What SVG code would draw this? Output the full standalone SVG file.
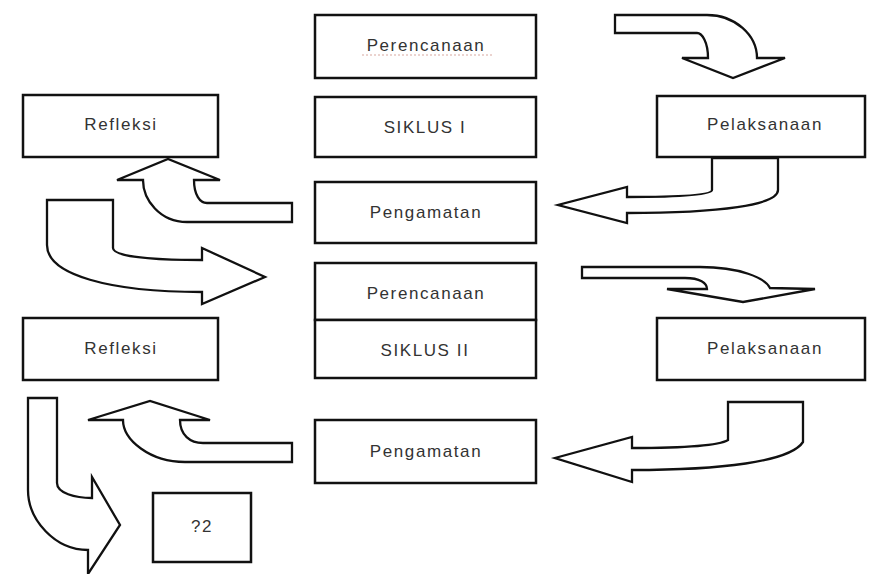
<svg xmlns="http://www.w3.org/2000/svg" width="870" height="574" viewBox="0 0 870 574">
<style>
.box{fill:#fff;stroke:#111;stroke-width:2.5}
.lbl{font-family:"Liberation Sans",Arial,sans-serif;font-size:17px;fill:#333;text-anchor:middle;letter-spacing:1.6px}
.arr{fill:#fff;stroke:#111;stroke-width:2.3;stroke-linejoin:miter}
</style>
<rect width="870" height="574" fill="#fff"/>
<g id="connectors">
<path class="arr" d="M615,15 L707,15 C735,15 757,35 757,58 L785,58 L733,78 L682,58 L708,58 C708,42 702,33 697,33 L615,33 Z"/>
<path class="arr" d="M712,158 L778,158 L778,190 C778,205 720,213 627,213 L627,223 L558,205 L627,187 L627,197 C680,197 712,195 712,190 Z"/>
<path class="arr" d="M292,203 L292,222 L187,222 C160,222 143,200 143,180 L117,180 L168,159 L220,180 L194,180 C194,195 200,203 207,203 Z"/>
<path class="arr" d="M47,200 L113,200 L113,248 C113,255 140,260 202,260 L202,248 L265,277 L202,304 L202,292 C110,292 47,275 47,245 Z"/>
<path class="arr" d="M582,267 L700,267 C740,267 765,278 770,288 L815,289 L743,302 L667,289 L707,289 C707,283 700,278 685,278 L582,278 Z"/>
<path class="arr" d="M728,402 L803,402 L803,442 C790,462 720,470 632,470 L632,482 L555,458 L632,437 L632,448 C690,448 720,445 728,440 Z"/>
<path class="arr" d="M292,443 L292,462 L185,462 C150,462 123,440 123,420 L88,420 L150,401 L210,420 L180,420 C180,435 190,443 203,443 Z"/>
<path class="arr" d="M28,398 L57,398 L57,483 C57,493 75,498 92,498 L92,477 L120,525 L88,574 L88,550 C55,550 28,520 28,490 Z"/>
</g>
<g id="perencanaan1">
<rect class="box" x="315" y="15" width="221" height="63"/>
<text class="lbl" x="426" y="51">Perencanaan</text>
<path d="M362,55 L492,55" stroke="#d8a8a0" stroke-width="1.2" stroke-dasharray="2,2" fill="none"/>
</g>
<g id="siklus1">
<rect class="box" x="315" y="97" width="221" height="60"/>
<text class="lbl" x="425" y="133">SIKLUS I</text>
</g>
<g id="pengamatan1">
<rect class="box" x="315" y="182" width="221" height="61"/>
<text class="lbl" x="426" y="218">Pengamatan</text>
</g>
<g id="perencanaan2">
<rect class="box" x="315" y="263" width="221" height="57"/>
<text class="lbl" x="426" y="299">Perencanaan</text>
</g>
<g id="siklus2">
<rect class="box" x="315" y="320" width="221" height="58"/>
<text class="lbl" x="425" y="356">SIKLUS II</text>
</g>
<g id="pengamatan2">
<rect class="box" x="315" y="420" width="221" height="63"/>
<text class="lbl" x="426" y="457">Pengamatan</text>
</g>
<g id="refleksi1">
<rect class="box" x="23" y="95" width="195" height="62"/>
<text class="lbl" x="121" y="130">Refleksi</text>
</g>
<g id="refleksi2">
<rect class="box" x="23" y="318" width="195" height="62"/>
<text class="lbl" x="121" y="354">Refleksi</text>
</g>
<g id="pelaksanaan1">
<rect class="box" x="657" y="96" width="208" height="61"/>
<text class="lbl" x="765" y="130">Pelaksanaan</text>
</g>
<g id="pelaksanaan2">
<rect class="box" x="657" y="318" width="208" height="62"/>
<text class="lbl" x="765" y="354">Pelaksanaan</text>
</g>
<g id="q">
<rect class="box" x="153" y="493" width="98" height="69"/>
<text class="lbl" x="202" y="532">?2</text>
</g>
</svg>
